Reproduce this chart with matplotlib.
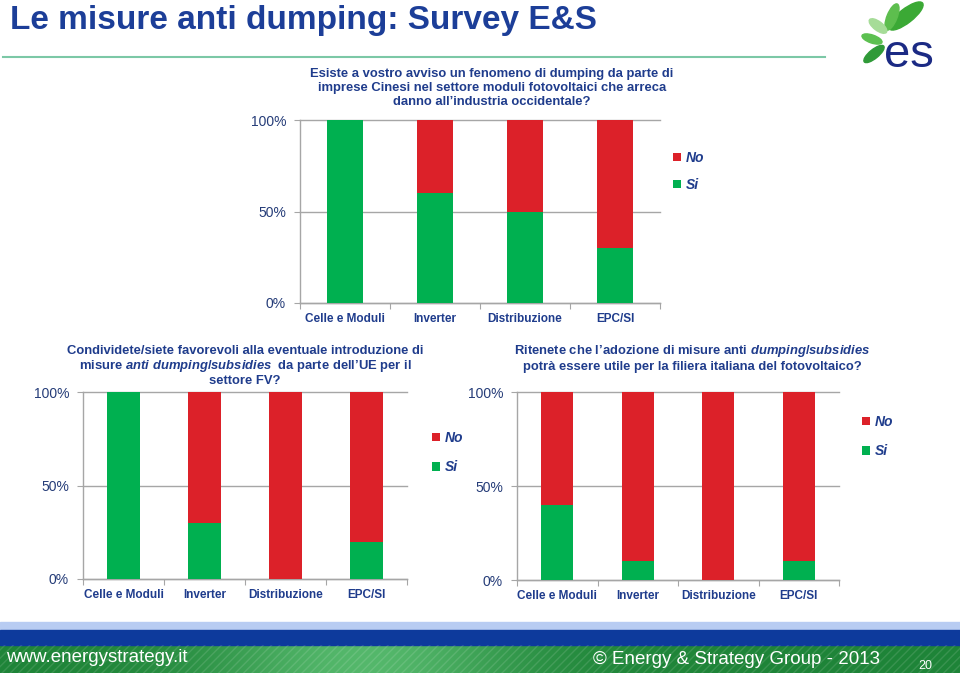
import numpy as np
import matplotlib
matplotlib.use('Agg')
import matplotlib.pyplot as plt
from matplotlib.patches import Rectangle, Ellipse

plt.rcParams['font.family'] = ['Liberation Sans', 'DejaVu Sans']
plt.rcParams['mathtext.fontset'] = 'custom'
plt.rcParams['mathtext.it'] = 'Liberation Sans:italic:bold'
plt.rcParams['mathtext.rm'] = 'Liberation Sans:bold'
plt.rcParams['hatch.linewidth'] = 1.0

#Data##############################################################################
categories = ['Celle e Moduli', 'Inverter', 'Distribuzione', 'EPC/SI']
y_ticks = [0, 0.5, 1.0]
y_tick_labels = ['0%', '50%', '100%']

# Esiste un fenomeno di dumping...
si_dumping = [1.00, 0.60, 0.50, 0.30]
no_dumping = [0.00, 0.40, 0.50, 0.70]
# Condividete/siete favorevoli...
si_favorevoli = [1.00, 0.30, 0.00, 0.20]
no_favorevoli = [0.00, 0.70, 1.00, 0.80]
# Ritenete utile per la filiera italiana...
si_utile = [0.40, 0.10, 0.00, 0.10]
no_utile = [0.60, 0.90, 1.00, 0.90]

#Style#############################################################################
W, H = 960, 676
GREEN = '#00B050'
RED = '#DC2129'
NAVY = '#1F3C8C'
GRID = '#A6A6A6'

fig = plt.figure(figsize=(W/100, H/100), dpi=100)
fig.patch.set_facecolor('white')


def px_rect(x0, y0, x1, y1):
    # pixel box (top-left origin) -> figure fraction rect
    return [x0/W, 1 - y1/H, (x1 - x0)/W, (y1 - y0)/H]


def draw_chart(box, si, no, legend_xy, spacing):
    ax = fig.add_axes(px_rect(*box))
    x = np.arange(len(categories))
    b_si = ax.bar(x, si, width=0.4, color=GREEN, zorder=3, label='Si')
    b_no = ax.bar(x, no, width=0.4, bottom=si, color=RED, zorder=3, label='No')
    ax.set_xlim(-0.5, len(categories) - 0.5)
    ax.set_ylim(0, 1)

    for side in ['top', 'right']:
        ax.spines[side].set_visible(False)
    for side in ['left', 'bottom']:
        ax.spines[side].set_color(GRID)
        ax.spines[side].set_linewidth(1)

    ax.set_yticks(y_ticks)
    ax.set_yticklabels(y_tick_labels)
    ax.tick_params(axis='y', direction='out', length=4, color=GRID, pad=6,
                   labelsize=10, labelcolor='#253C78')
    ax.yaxis.grid(True, color=GRID, linewidth=1, zorder=0)
    for gl in ax.get_ygridlines():
        gl.set_clip_on(False)

    # ticks between categories, labels under each bar
    ax.set_xticks(np.arange(-0.5, len(categories), 1.0))
    ax.set_xticklabels([])
    ax.tick_params(axis='x', which='major', direction='out', length=4, color=GRID)
    ax.set_xticks(x, minor=True)
    ax.set_xticklabels(categories, minor=True, fontsize=8.5, fontweight='bold', color=NAVY)
    ax.tick_params(axis='x', which='minor', length=0, pad=7)

    lx, ly = legend_xy
    ax.legend([b_no, b_si], ['No', 'Si'], loc='upper left',
              bbox_to_anchor=(lx/W, 1 - ly/H), bbox_transform=fig.transFigure,
              frameon=False, borderpad=0, borderaxespad=0,
              handlelength=0.55, handleheight=0.55, handletextpad=0.35,
              labelspacing=spacing, labelcolor=NAVY,
              prop=dict(weight='bold', style='italic', size=10))
    return ax


#Background: title, line, logo, footer###############################################
bg = fig.add_axes([0, 0, 1, 1], zorder=-1)

# green band in the footer, lighter in the middle
xs = np.linspace(0, 1, 400)
glow = np.exp(-((xs - 0.38) / 0.16) ** 2)
dark = np.array([0.12, 0.52, 0.22])
light = np.array([0.33, 0.72, 0.42])
grad = dark + (light - dark) * glow[:, None]
bg.imshow(grad[None, :, :], extent=[0, W, 673, 645], aspect='auto', zorder=1)
bg.add_patch(Rectangle((0, 645), W, 28, fill=False, hatch='////',
                       edgecolor=(1, 1, 1, 0.12), linewidth=0, zorder=2))
bg.add_patch(Rectangle((0, 622), W, 8, color='#B8CCF2', zorder=1))
bg.add_patch(Rectangle((0, 630), W, 15, color='#0D3A9C', zorder=1))

# thin line under the title
bg.plot([3, 825], [57, 57], color='#7CC8A6', linewidth=1.5)

# logo leaves
leaves = [((906, 16), 42, 14, -38, '#3BA935'),
          ((892, 17), 28, 10, -68, '#5DBE4E'),
          ((878, 26), 21, 9, 37, '#A6DC98'),
          ((872, 39), 21, 8, 19, '#5CC050'),
          ((874, 54), 25, 9, -39, '#2F9A38')]
for (cx, cy), w, h, ang, col in leaves:
    bg.add_patch(Ellipse((cx, cy), w, h, angle=ang, color=col, zorder=3))

bg.set_xlim(0, W)
bg.set_ylim(H, 0)
bg.axis('off')

fig.text(10/W, 1 - 29/H, 'Le misure anti dumping: Survey E&S', fontsize=24,
         fontweight='bold', color='#1C3E98', ha='left', va='baseline')
fig.text(884/W, 1 - 67/H, 'es', fontsize=34, color='#1B2A84', ha='left', va='baseline')

fig.text(6/W, 1 - 657/H, 'www.energystrategy.it', fontsize=13.5, color='white',
         ha='left', va='center')
fig.text(880/W, 1 - 659/H, '\u00a9 Energy & Strategy Group - 2013', fontsize=13.5,
         color='white', ha='right', va='center')
fig.text(925/W, 1 - 666/H, '20', fontsize=9, color='white', ha='center', va='center')

#Charts############################################################################
draw_chart((300, 120, 660, 303), si_dumping, no_dumping, (673, 151), 0.95)
fig.text(492/W, 1 - 88/H,
         'Esiste a vostro avviso un fenomeno di dumping da parte di\n'
         'imprese Cinesi nel settore moduli fotovoltaici che arreca\n'
         'danno all\u2019industria occidentale?',
         fontsize=9.4, fontweight='bold', color=NAVY, ha='center', va='center',
         linespacing=1.2)

draw_chart((83, 392, 407, 579), si_favorevoli, no_favorevoli, (432, 431), 1.1)
fig.text(245/W, 1 - 366/H,
         'Condividete/siete favorevoli alla eventuale introduzione di\n'
         r'misure $\mathit{anti\ dumping/subsidies}$  da parte dell' + '\u2019UE per il\n'
         'settore FV?',
         fontsize=9.4, fontweight='bold', color=NAVY, ha='center', va='center',
         linespacing=1.15)

draw_chart((517, 392, 839, 580), si_utile, no_utile, (862, 415), 1.1)
fig.text(692/W, 1 - 358/H,
         'Ritenete che l\u2019adozione di misure anti $\\mathit{dumping/subsidies}$\n'
         'potr\u00e0 essere utile per la filiera italiana del fotovoltaico?',
         fontsize=9.4, fontweight='bold', color=NAVY, ha='center', va='center',
         linespacing=1.15)

fig.savefig('out.png', dpi=100, facecolor='white')
